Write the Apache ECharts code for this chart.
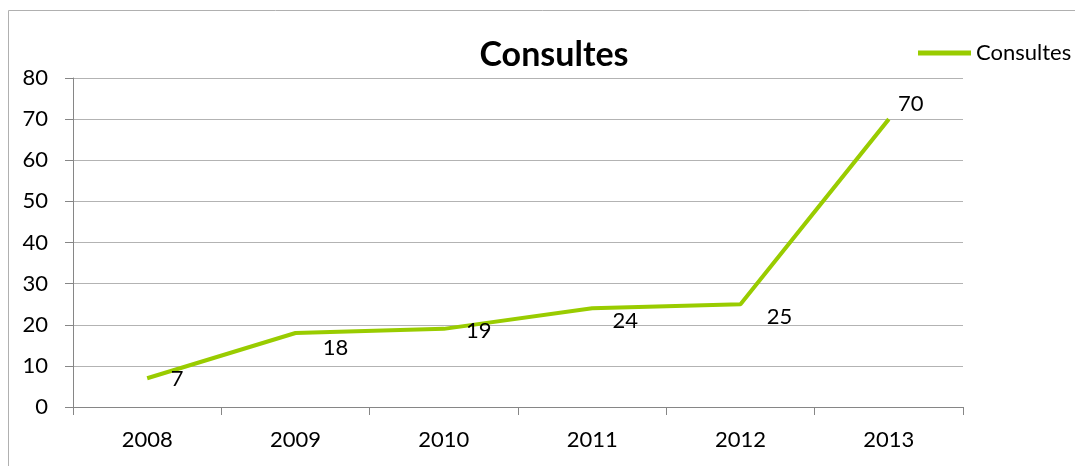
<!DOCTYPE html>
<html>
<head>
<meta charset="utf-8">
<script src="https://cdn.jsdelivr.net/npm/echarts@6/dist/echarts.min.js"></script>
<style>
  html, body { margin: 0; padding: 0; background: #fff; }
  #chart { width: 1075px; height: 466px; }
</style>
</head>
<body>
<div id="chart"></div>
<script>
var years = ['2008', '2009', '2010', '2011', '2012', '2013'];
var consultes = [7, 18, 19, 24, 25, 70];
var yTicks = { min: 0, max: 80, interval: 10 };
// where each value label sits relative to its point (Excel placed them by hand)
var labelNudge = [[30, 1], [40, 15], [35, 2], [33, 13], [39, 13], [22, -15]];

var font = 'Lato, "Open Sans", sans-serif';
var myChart = echarts.init(document.getElementById('chart'));

var option = {
    animation: false,
    textStyle: { fontFamily: font },
    graphic: [{
        type: 'rect',
        shape: { x: 8.5, y: 10.5, width: 1080, height: 470 },
        style: { fill: 'none', stroke: '#b0b0b0', lineWidth: 1 }
    }],
    title: {
        text: 'Consultes',
        left: 549,
        textAlign: 'center',
        top: 33,
        textStyle: { fontFamily: font, fontSize: 34, fontWeight: 'bold', color: '#000' }
    },
    legend: {
        data: ['Consultes'],
        left: 913,
        top: 37,
        itemWidth: 53,
        itemHeight: 5,
        itemGap: 4,
        icon: 'rect',
        textStyle: { fontFamily: font, fontSize: 22, color: '#000' }
    },
    grid: { left: 73, right: 112, top: 78, bottom: 59, containLabel: false },
    xAxis: {
        type: 'category',
        data: years,
        boundaryGap: true,
        axisLine: { lineStyle: { color: '#868686' } },
        axisTick: { show: true, length: 8, lineStyle: { color: '#868686' } },
        axisLabel: { fontFamily: font, fontSize: 22, color: '#000', margin: 22 }
    },
    yAxis: {
        type: 'value',
        min: yTicks.min,
        max: yTicks.max,
        interval: yTicks.interval,
        axisLine: { show: true, lineStyle: { color: '#868686' } },
        axisTick: { show: true, length: 8, lineStyle: { color: '#868686' } },
        axisLabel: { fontFamily: font, fontSize: 22, color: '#000', margin: 25 },
        splitLine: { lineStyle: { color: '#b3b3b3' } }
    },
    series: [{
        name: 'Consultes',
        type: 'line',
        data: consultes.map(function (v, i) {
            return { value: v, label: { offset: labelNudge[i] } };
        }),
        color: '#99cc00',
        symbol: 'circle',
        symbolSize: 0,
        showSymbol: true,
        lineStyle: { width: 4, color: '#99cc00' },
        label: {
            show: true,
            position: 'inside',
            fontFamily: font,
            fontSize: 22,
            color: '#000'
        }
    }]
};
myChart.setOption(option);
</script>
</body>
</html>
